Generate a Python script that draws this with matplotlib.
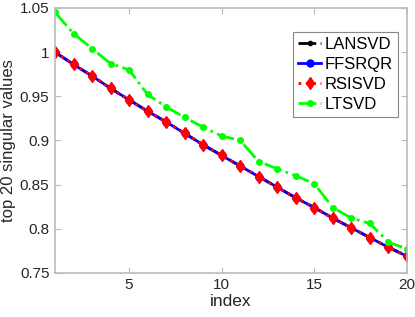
import numpy as np
import matplotlib.pyplot as plt

plt.rcParams['font.family'] = ['Liberation Sans', 'DejaVu Sans']

index = np.arange(1, 21)
lansvd = [1.000, 0.986, 0.973, 0.959, 0.946, 0.933, 0.921, 0.908, 0.895, 0.883,
          0.871, 0.859, 0.847, 0.835, 0.824, 0.812, 0.801, 0.790, 0.779, 0.769]
ffsrqr = list(lansvd)
rsisvd = list(lansvd)
ltsvd = [1.045, 1.021, 1.004, 0.987, 0.980, 0.952, 0.938, 0.926, 0.915, 0.905,
         0.900, 0.876, 0.868, 0.860, 0.851, 0.824, 0.812, 0.806, 0.785, 0.777]

fig = plt.figure(figsize=(4.15, 3.17), dpi=100)
ax = fig.add_axes([0.1325, 0.139, 0.848, 0.836])

ax.plot(index, lansvd, '-.', color='black', marker='.', markersize=6, lw=2, label='LANSVD')
ax.plot(index, ffsrqr, '-', color='blue', marker='o', markersize=5, lw=2, label='FFSRQR')
ax.plot(index, rsisvd, ':', color='red', marker='d', markersize=6.5, lw=2, label='RSISVD')
ax.plot(index, ltsvd, '-.', color='#00ff00', marker='.', markersize=8, lw=2, label='LTSVD')

ax.set_xlim(1, 20)
ax.set_ylim(0.75, 1.05)
ax.set_xticks([5, 10, 15, 20])
ax.set_yticks([0.75, 0.8, 0.85, 0.9, 0.95, 1.0, 1.05])
ax.set_yticklabels(['0.75', '0.8', '0.85', '0.9', '0.95', '1', '1.05'])
ax.tick_params(direction='in', top=True, right=True, labelsize=11, color='#bbbbbb',
               labelcolor='#262626', length=4, pad=4)
for s in ax.spines.values():
    s.set_color('#bbbbbb')
    s.set_linewidth(1.2)

ax.set_xlabel('index', fontsize=12.5, labelpad=1, color='#262626')
ax.set_ylabel('top 20 singular values', fontsize=12, labelpad=3, color='#262626')

leg = ax.legend(loc='upper right', bbox_to_anchor=(0.974, 0.909), fontsize=12,
                fancybox=False, framealpha=1, handlelength=1.4, handletextpad=0.2,
                borderpad=0.3, labelspacing=0.3, borderaxespad=0)
leg.get_frame().set_edgecolor('#888888')
leg.get_frame().set_linewidth(0.8)

fig.savefig('out.png', dpi=100)
